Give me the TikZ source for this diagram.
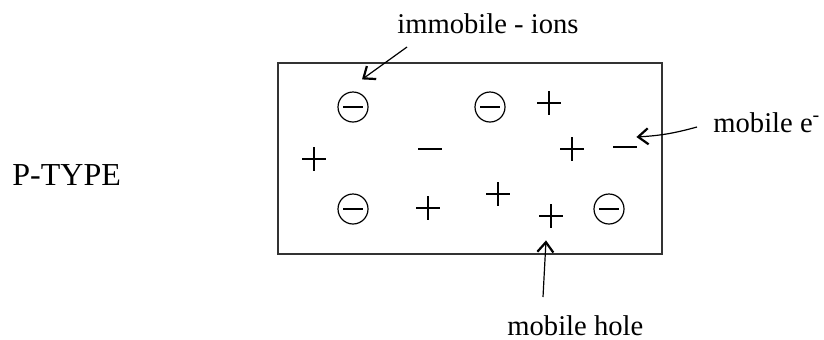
\documentclass[tikz,border=0pt]{standalone}
\usepackage{fontspec}
\setmainfont{Liberation Serif}
\usepackage{tikz}
\usetikzlibrary{arrows.meta, calc}

\tikzset{
  ion/.style={circle, draw, line width=0.6pt, minimum size=15pt, inner sep=0pt,
    path picture={\draw[line width=0.6pt] ($(path picture bounding box.center)+(-10,0)$) -- ++(20,0);}},
  hole/.style={minimum size=12pt, inner sep=0pt,
    path picture={\draw[line width=0.6pt] (path picture bounding box.west) -- (path picture bounding box.east)
      (path picture bounding box.north) -- (path picture bounding box.south);}},
  electron/.style={minimum width=12pt, minimum height=2pt, inner sep=0pt,
    path picture={\draw[line width=0.6pt] (path picture bounding box.west) -- (path picture bounding box.east);}},
  pointer/.style={line width=0.6pt, -{Straight Barb[length=5pt,width=8pt,line width=1.1pt]}},
  lbl/.style={anchor=base west, inner sep=0pt, font=\fontsize{14.3}{17}\selectfont}
}

\begin{document}
\begin{tikzpicture}[x=0.5pt, y=-0.5pt]
  \useasboundingbox (0,0) rectangle (824,339);

  %% crystal block
  \draw[line width=1pt, black!80] (278,63) rectangle (662,254);
  \node[anchor=base west, inner sep=0pt, font=\fontsize{16}{19}\selectfont] (ptype) at (12,185) {P-TYPE};

  %% fixed ions
  \node[ion] (ion1) at (353,107) {};
  \node[ion] (ion2) at (490,107) {};
  \node[ion] (ion3) at (353,209) {};
  \node[ion] (ion4) at (609,209) {};

  %% holes
  \node[hole] (h1) at (549,103) {};
  \node[hole] (h2) at (314,159) {};
  \node[hole] (h3) at (572,149) {};
  \node[hole] (h4) at (428,208) {};
  \node[hole] (h5) at (498,194) {};
  \node[hole] (h6) at (551,216) {};

  %% free electrons
  \node[electron] (e1) at (430,149) {};
  \node[electron] (e2) at (625,147) {};

  %% labels and pointers
  \node[lbl] (lions) at (397,33) {immobile - ions};
  \node[lbl] (lelec) at (713,132) {mobile e\textsuperscript{-}};
  \node[lbl] (lhole) at (507,335) {mobile hole};

  \coordinate (ions tail) at (407,47);
  \coordinate (elec tail) at (697,127);
  \coordinate (hole tail) at (543,297);

  \draw[pointer] (ions tail) -- ($(ion1.north)+(9,-12)$);
  \draw[pointer] (elec tail) to[bend left=6] ($(e2.east)+(-1,-10)$);
  \draw[pointer] (hole tail) -- ($(h6.south)+(-5,12)$);
\end{tikzpicture}
\end{document}
